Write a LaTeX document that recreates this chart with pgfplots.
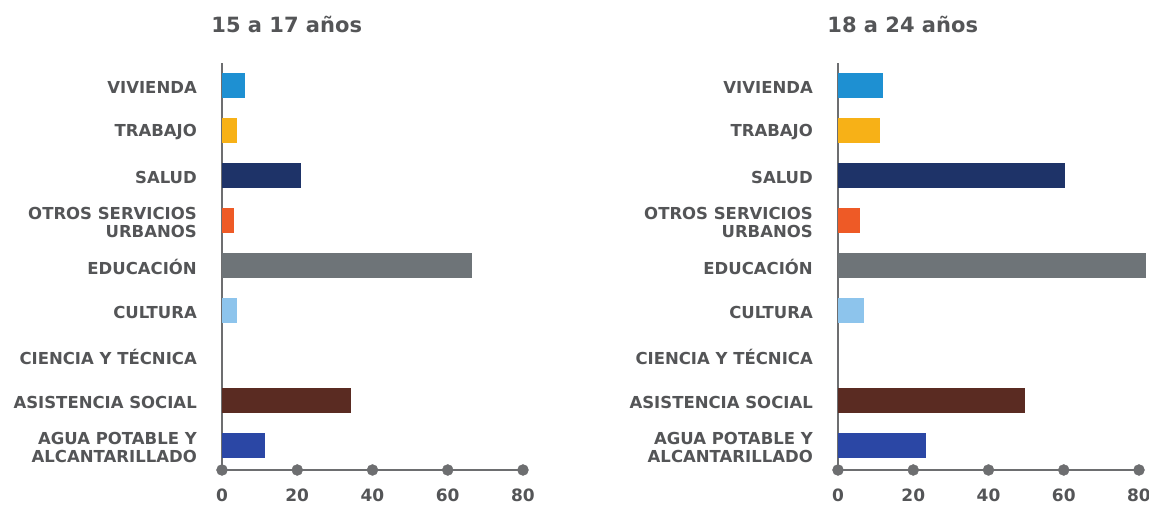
\documentclass[border=0pt]{standalone}
\usepackage{fontspec}
\setmainfont{DejaVu Sans}
\usepackage{pgfplots}
\pgfplotsset{compat=1.18}
\definecolor{cviv}{HTML}{1E90D2}
\definecolor{ctra}{HTML}{F7B117}
\definecolor{csal}{HTML}{1E3368}
\definecolor{cotr}{HTML}{EE5A26}
\definecolor{cedu}{HTML}{6E7478}
\definecolor{ccul}{HTML}{8DC4EC}
\definecolor{casi}{HTML}{5A2B22}
\definecolor{cagu}{HTML}{2B47A5}
\definecolor{axisgray}{HTML}{6D6E70}
\definecolor{textgray}{HTML}{545557}
\pgfplotsset{
  b/.style={xbar, bar width=25pt, bar shift=0pt, fill=#1, draw=none},
  panel/.style={
    scale only axis, width=301pt, height=407pt,
    xmin=0, xmax=80, ymin=-0.55, ymax=8.5,
    axis x line=bottom, axis y line=left,
    axis line style={-, draw=axisgray, line width=2pt},
    xtick={0,20,...,80}, ytick={0,...,8},
    yticklabels={{AGUA POTABLE Y\\ALCANTARILLADO},{ASISTENCIA SOCIAL},{CIENCIA Y TÉCNICA},{CULTURA},{EDUCACIÓN},{OTROS SERVICIOS\\URBANOS},{SALUD},{TRABAJO},{VIVIENDA}},
    major tick length=0pt,
    clip=false,
    /pgf/number format/assume math mode=true,
    tick label style={font=\fontsize{16.5}{18}\selectfont\bfseries, text=textgray},
    yticklabel style={align=right, inner sep=0pt, xshift=-25pt, yshift=-2pt},
    xticklabel style={inner sep=0pt, yshift=-19pt, font=\fontsize{17}{18}\selectfont\bfseries},
    title style={font=\fontsize{21}{24}\selectfont\bfseries, text=textgray, at={(rel axis cs:0.215,1.08)}, anchor=center},
  }
}
\begin{document}
\begin{tikzpicture}
\useasboundingbox (-222pt,-35pt) rectangle (927pt,470pt);
\begin{axis}[panel, at={(0pt,0pt)}, anchor=south west, title={15 a 17 años}]
\addplot[b=cagu] coordinates {(11.5,0)};
\addplot[b=casi] coordinates {(34.2,1)};
\addplot[b=ccul] coordinates {(4.0,3)};
\addplot[b=cedu] coordinates {(66.5,4)};
\addplot[b=cotr] coordinates {(3.2,5)};
\addplot[b=csal] coordinates {(21.1,6)};
\addplot[b=ctra] coordinates {(4.0,7)};
\addplot[b=cviv] coordinates {(6.0,8)};
\addplot[only marks, mark=*, mark size=5.5pt, color=axisgray] coordinates {(0,-0.55) (20,-0.55) (40,-0.55) (60,-0.55) (80,-0.55)};
\end{axis}
\begin{axis}[panel, at={(616pt,0pt)}, anchor=south west, title={18 a 24 años}]
\addplot[b=cagu] coordinates {(23.5,0)};
\addplot[b=casi] coordinates {(49.8,1)};
\addplot[b=ccul] coordinates {(7.0,3)};
\addplot[b=cedu] coordinates {(81.9,4)};
\addplot[b=cotr] coordinates {(5.8,5)};
\addplot[b=csal] coordinates {(60.3,6)};
\addplot[b=ctra] coordinates {(11.2,7)};
\addplot[b=cviv] coordinates {(11.9,8)};
\addplot[only marks, mark=*, mark size=5.5pt, color=axisgray] coordinates {(0,-0.55) (20,-0.55) (40,-0.55) (60,-0.55) (80,-0.55)};
\end{axis}
\end{tikzpicture}
\end{document}
